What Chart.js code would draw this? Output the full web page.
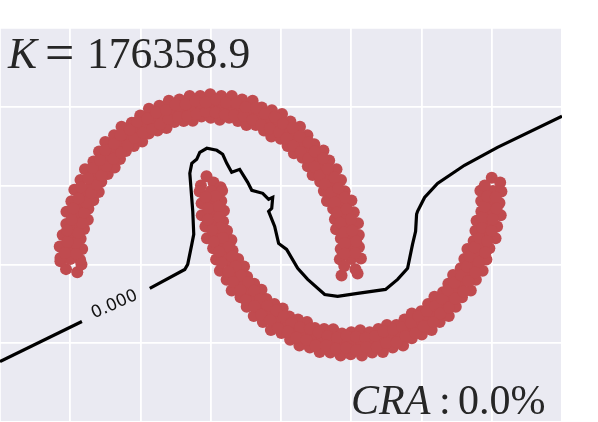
<!DOCTYPE html>
<html>
<head>
<meta charset="utf-8">
<title>Decision boundary</title>
<script src="https://cdn.jsdelivr.net/npm/chart.js@4"></script>
<style>
    html, body { margin: 0; padding: 0; background: #fff; }
    canvas { display: block; }
</style>
</head>
<body>
<canvas id="chart" width="598" height="422"></canvas>
<script>
// values, walking along each band
const upperX = [
    -1.03, -.95, -1.07, -.92,
    -.93, -1.0, -1.07,
    -.915, -1.005, -1.075,
    -.926, -.985, -1.054,
    -.902, -.960, -1.028,
    -.875, -.961, -1.027,
    -.871, -.927, -.992,
    -.836, -.908, -.971,
    -.797, -.857, -.927,
    -.779, -.837, -.895,
    -.733, -.788, -.835,
    -.684, -.743, -.795,
    -.646, -.702, -.751,
    -.604, -.637, -.688,
    -.547, -.588, -.635,
    -.488, -.535, -.562,
    -.441, -.469, -.502,
    -.379, -.411, -.440,
    -.315, -.342, -.366,
    -.259, -.273, -.298,
    -.193, -.210, -.223,
    -.128, -.139, -.150,
    -.066, -.071, -.075,
    0, .005, -.004,
    .064, .071, .075,
    .131, .139, .150,
    .193, .206, .223,
    .254, .279, .298,
    .321, .342, .363,
    .379, .411, .435,
    .431, .469, .507,
    .498, .525, .567,
    .547, .594, .635,
    .592, .643, .688,
    .653, .702, .737,
    .691, .743, .802,
    .725, .780, .843,
    .779, .837, .895,
    .805, .866, .927,
    .827, .908, .953,
    .871, .927, 1.001,
    .884, .941, 1.018,
    .892, .980, 1.048,
    .926, .985, 1.054,
    .925, 1.005, 1.055,
    .919, .999, 1.069,
    .931, 1.045, 1.03, .95,
    -.958, -1.038, -.960, -1.020, -.944, -1.022, -.918, -.990, -.902, -.978,
    -.887, -.941, -.852, -.923, -.810, -.873, -.777, -.841, -.743, -.789,
    -.694, -.751, -.639, -.689, -.591, -.641, -.542, -.576, -.483, -.523,
    -.418, -.451, -.360, -.390, -.300, -.318, -.234, -.253, -.166, -.179,
    -.101, -.109, -.034, -.036, .034, .037, .100, .108, .167, .181,
    .235, .249, .298, .323, .358, .386, .420, .456, .485, .515,
    .539, .584, .588, .634, .642, .696, .697, .741, .739, .800,
    .773, .833, .814, .882, .857, .909, .882, .955, .898, .968,
    .923, .999, .949, 1.007, .955, 1.035, .953, 1.028
];
const upperY = [
    -.03, -.05, .02, .0,
    .03, .035, .04,
    .097, .106, .113,
    .163, .174, .186,
    .225, .240, .257,
    .284, .312, .334,
    .353, .375, .401,
    .407, .442, .473,
    .460, .495, .535,
    .525, .565, .604,
    .573, .616, .653,
    .615, .669, .716,
    .669, .726, .777,
    .720, .758, .820,
    .752, .809, .874,
    .780, .856, .899,
    .830, .883, .945,
    .850, .923, .987,
    .865, .940, 1.006,
    .903, .951, 1.038,
    .910, .988, 1.046,
    .911, .990, 1.069,
    .938, 1.008, 1.068,
    .93, 1.0, 1.08,
    .918, 1.008, 1.068,
    .931, .990, 1.069,
    .910, .968, 1.046,
    .884, .971, 1.038,
    .884, .940, .996,
    .850, .923, .978,
    .812, .883, .954,
    .797, .840, .907,
    .752, .817, .874,
    .705, .766, .820,
    .676, .726, .762,
    .622, .669, .723,
    .567, .610, .659,
    .525, .565, .604,
    .465, .500, .535,
    .403, .442, .464,
    .353, .375, .405,
    .287, .306, .331,
    .223, .244, .261,
    .164, .174, .186,
    .098, .106, .111,
    .032, .035, .037,
    -.07, -.057, -.03, -.01,
    .067, .073, .135, .143, .201, .217, .264, .284, .328, .356,
    .395, .419, .453, .490, .506, .546, .564, .612, .624, .662,
    .671, .726, .710, .765, .756, .820, .804, .854, .836, .905,
    .859, .926, .890, .964, .922, .980, .936, 1.014, .941, 1.015,
    .955, 1.035, .969, 1.029, .964, 1.044, .950, 1.025, .946, 1.024,
    .941, .999, .918, .994, .885, .955, .863, .935, .840, .892,
    .800, .866, .753, .812, .713, .773, .674, .716, .620, .672,
    .562, .606, .509, .551, .455, .483, .393, .425, .327, .352,
    .265, .287, .202, .214, .134, .145, .067, .072
];
const lowerX = [
    -.03, .02, -.07, .07,
    .081, .001, -.079,
    .075, -.005, -.065,
    .094, .015, -.064,
    .088, .040, -.038,
    .116, .040, -.027,
    .147, .073, .017,
    .155, .092, .038,
    .195, .143, .065,
    .237, .171, .113,
    .259, .204, .149,
    .309, .257, .212,
    .361, .312, .256,
    .396, .351, .306,
    .453, .412, .371,
    .512, .465, .428,
    .559, .531, .503,
    .621, .597, .565,
    .685, .655, .631,
    .741, .724, .705,
    .807, .790, .775,
    .872, .861, .851,
    .934, .931, .924,
    1.0, 1.004, .996,
    1.064, 1.070, 1.076,
    1.131, 1.140, 1.149,
    1.193, 1.208, 1.225,
    1.254, 1.273, 1.295,
    1.321, 1.345, 1.369,
    1.379, 1.407, 1.431,
    1.431, 1.474, 1.502,
    1.498, 1.530, 1.572,
    1.547, 1.582, 1.629,
    1.592, 1.649, 1.694,
    1.653, 1.695, 1.744,
    1.691, 1.750, 1.788,
    1.725, 1.788, 1.851,
    1.779, 1.821, 1.887,
    1.805, 1.875, 1.935,
    1.827, 1.899, 1.962,
    1.871, 1.936, 1.983,
    1.884, 1.951, 2.027,
    1.892, 1.960, 2.038,
    1.926, 1.995, 2.064,
    1.925, 1.995, 2.055,
    1.919, 2.009, 2.069,
    2.0, 1.95, 2.06,
    .032, -.038, .055, -.020, .061, -.022, .068, .010, .088, .022,
    .127, .059, .152, .077, .177, .127, .215, .159, .268, .211,
    .310, .249, .351, .311, .402, .359, .466, .424, .520, .478,
    .575, .549, .636, .610, .705, .682, .768, .747, .831, .821,
    .898, .891, .967, .964, 1.034, 1.037, 1.102, 1.108, 1.169, 1.181,
    1.231, 1.249, 1.297, 1.323, 1.364, 1.386, 1.425, 1.456, 1.478, 1.515,
    1.537, 1.584, 1.598, 1.634, 1.649, 1.696, 1.687, 1.741, 1.735, 1.800,
    1.785, 1.833, 1.823, 1.882, 1.843, 1.909, 1.877, 1.955, 1.912, 1.968,
    1.932, 1.999, 1.934, 2.007, 1.950, 2.035, 1.968, 2.028
];
const lowerY = [
    .56, .52, .50, .49,
    .468, .465, .462,
    .402, .394, .388,
    .340, .326, .312,
    .273, .260, .241,
    .213, .188, .166,
    .155, .125, .103,
    .088, .058, .031,
    .035, .005, -.040,
    -.014, -.059, -.098,
    -.079, -.122, -.165,
    -.122, -.169, -.209,
    -.161, -.212, -.269,
    -.220, -.274, -.327,
    -.252, -.309, -.366,
    -.280, -.356, -.416,
    -.330, -.383, -.436,
    -.350, -.405, -.478,
    -.365, -.449, -.515,
    -.403, -.461, -.528,
    -.410, -.488, -.556,
    -.411, -.490, -.559,
    -.438, -.488, -.578,
    -.430, -.510, -.570,
    -.418, -.498, -.578,
    -.431, -.500, -.559,
    -.410, -.478, -.556,
    -.384, -.451, -.528,
    -.384, -.449, -.515,
    -.350, -.414, -.469,
    -.312, -.392, -.445,
    -.297, -.348, -.416,
    -.252, -.301, -.366,
    -.205, -.274, -.327,
    -.176, -.219, -.269,
    -.122, -.176, -.209,
    -.067, -.116, -.165,
    -.025, -.053, -.098,
    .035, -.005, -.040,
    .097, .062, .031,
    .148, .121, .103,
    .213, .191, .166,
    .277, .260, .241,
    .336, .324, .312,
    .402, .395, .389,
    .468, .465, .463,
    .55, .50, .52,
    .432, .427, .367, .357, .300, .283, .232, .216, .168, .144,
    .111, .081, .050, .010, -.014, -.046, -.070, -.112, -.114, -.162,
    -.167, -.226, -.221, -.265, -.264, -.320, -.292, -.354, -.331, -.405,
    -.372, -.426, -.399, -.464, -.408, -.480, -.431, -.514, -.455, -.515,
    -.465, -.535, -.454, -.529, -.459, -.544, -.465, -.525, -.455, -.524,
    -.426, -.499, -.413, -.494, -.399, -.455, -.372, -.435, -.327, -.392,
    -.296, -.366, -.264, -.312, -.221, -.273, -.164, -.216, -.117, -.172,
    -.070, -.106, -.014, -.051, .052, .017, .109, .075, .168, .148,
    .232, .213, .301, .286, .367, .355, .432, .428
];

// the zero contour, broken where its label sits
const contourLeftX = [-1.5, -.917];
const contourLeftY = [-.616, -.362];
const contourRightX = [
    -.434, -.185, -.164, -.135, -.121, -.128, -.149, -.135, -.100, -.078, -.028,
    .043, .085, .114, .149, .206, .263, .292, .370, .412, .441, .434, .412, .455,
    .483, .540, .619, .690, .811, .903, 1.045, 1.244, 1.330, 1.401, 1.436, 1.458,
    1.465, 1.472, 1.522, 1.614, 1.806, 2.041, 2.5
];
const contourRightY = [
    -.152, -.032, 0, .127, .191, .337, .578, .641, .667, .711, .737,
    .724, .699, .641, .584, .603, .521, .470, .451, .413, .425, .356, .337, .241,
    .133, .095, -.025, -.095, -.191, -.203, -.184, -.159, -.095, -.025, .127, .210,
    .318, .337, .425, .514, .629, .743, .94
];

const xTicks = [-1.5, -1, -.5, 0, .5, 1, 1.5, 2, 2.5];
const yTicks = [-1, -.5, 0, .5, 1, 1.5];
const contourLabel = "0.000";
const scoreName = "K";
const scoreValue = "176358.9";
const rateName = "CRA";
const rateValue = "0.0%";

const zip = (xs, ys) => xs.map((x, i) => ({ x: x, y: ys[i] }));

const TEXT_COLOR = "#262626";
const SERIF = '"Liberation Serif", serif';

function piece(ctx, text, x, y, style, size) {
    ctx.font = style + " " + size + "px " + SERIF;
    ctx.fillText(text, x, y);
}

// plot background behind the grid
const plotBackground = {
    id: "plotBackground",
    beforeDraw(chart) {
        const { ctx, chartArea: a } = chart;
        ctx.save();
        ctx.fillStyle = "#EAEAF2";
        ctx.fillRect(a.left, a.top, a.right - a.left, a.bottom - a.top);
        ctx.restore();
    }
};

const annotations = {
    id: "annotations",
    afterDraw(chart) {
        const { ctx, scales } = chart;
        ctx.save();
        ctx.fillStyle = TEXT_COLOR;
        ctx.textBaseline = "alphabetic";
        ctx.textAlign = "left";

        piece(ctx, scoreName, 8, 68, "italic", 43.5);
        piece(ctx, "=", 45, 70, "normal", 52);
        piece(ctx, scoreValue, 87, 68, "normal", 43.5);

        piece(ctx, rateName, 351, 414, "italic", 42);
        piece(ctx, ":", 439, 414, "normal", 42);
        piece(ctx, rateValue, 458, 414, "normal", 42);

        // contour label, turned along the line
        ctx.translate(scales.x.getPixelForValue(-.685), scales.y.getPixelForValue(-.255));
        ctx.rotate(-24 * Math.PI / 180);
        ctx.textAlign = "center";
        ctx.textBaseline = "middle";
        ctx.fillStyle = "#111";
        ctx.font = '17px "DejaVu Sans"';
        ctx.fillText(contourLabel, 0, 0);
        ctx.restore();
    }
};

const moonStyle = { backgroundColor: "#C04B4F", borderWidth: 0, pointRadius: 6, order: 2 };
const lineStyle = { showLine: true, borderColor: "#000", borderWidth: 3.2, pointRadius: 0, tension: 0, order: 1 };

new Chart(document.getElementById("chart"), {
    type: "scatter",
    data: {
        datasets: [
            { label: "upper", data: zip(upperX, upperY), ...moonStyle },
            { label: "lower", data: zip(lowerX, lowerY), ...moonStyle },
            { label: "contour left", data: zip(contourLeftX, contourLeftY), ...lineStyle },
            { label: "contour right", data: zip(contourRightX, contourRightY), ...lineStyle }
        ]
    },
    options: {
        responsive: false,
        animation: false,
        layout: { autoPadding: false, padding: { top: 28, right: 36, bottom: 0, left: 0 } },
        plugins: { legend: { display: false }, tooltip: { enabled: false } },
        scales: {
            x: {
                type: "linear",
                min: xTicks[0],
                max: xTicks[xTicks.length - 1],
                afterBuildTicks: (axis) => { axis.ticks = xTicks.map((v) => ({ value: v })); },
                ticks: { display: false },
                border: { display: false },
                grid: { color: "#fff", lineWidth: 1.8, drawTicks: false }
            },
            y: {
                type: "linear",
                min: yTicks[0],
                max: yTicks[yTicks.length - 1],
                afterBuildTicks: (axis) => { axis.ticks = yTicks.map((v) => ({ value: v })); },
                ticks: { display: false },
                border: { display: false },
                grid: { color: "#fff", lineWidth: 1.8, drawTicks: false }
            }
        }
    },
    plugins: [plotBackground, annotations]
});
</script>
</body>
</html>
